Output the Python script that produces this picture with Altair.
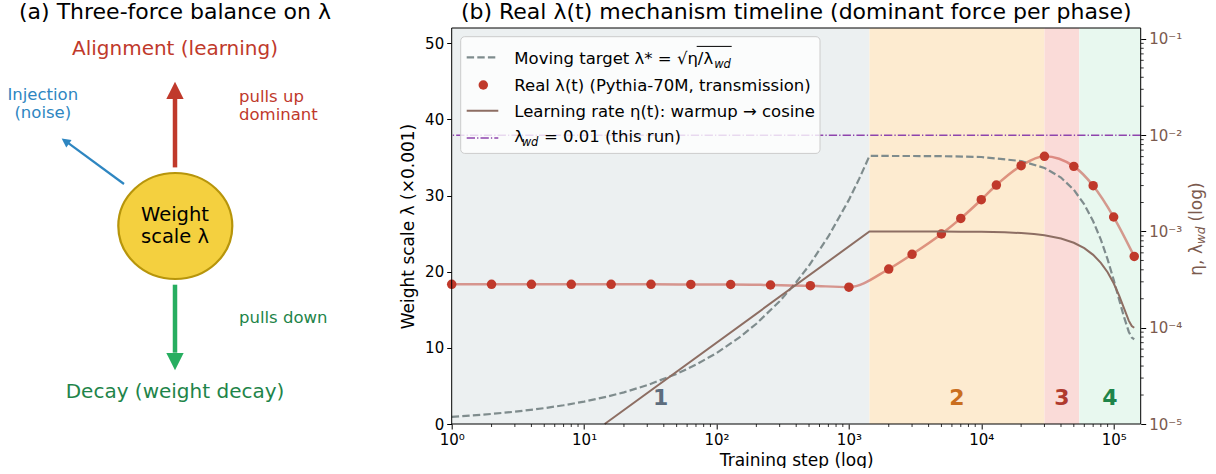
import altair as alt
import pandas as pd

# ---------------- data ----------------
# measured weight scale lambda(t) (x0.001) at checkpoint steps
ckpt_steps = [1, 2, 4, 8, 16, 32, 64, 128, 256, 512, 1000, 2000, 3000, 5000, 7000,
              10000, 13000, 20000, 30000, 50000, 70000, 100000, 143000]
ckpt_lambda = [18.34, 18.34, 18.34, 18.34, 18.34, 18.34, 18.33, 18.32, 18.25, 18.16, 17.97,
               20.35, 22.28, 24.95, 27.0, 29.45, 31.38, 33.92, 35.15, 33.83, 31.29, 27.18, 22.01]

# moving target lambda* = sqrt(eta / lambda_wd), shown on the same x0.001 scale
target_steps = [1, 2, 3, 5, 7, 10, 15, 20, 30, 50, 70, 100, 150, 200, 300, 400, 500, 700,
                1000, 1200, 1430, 3000, 5000, 10000, 20000, 30000, 40000, 50000, 60000,
                70000, 80000, 90000, 100000, 110000, 120000, 130000, 137000, 143000]
target_lambda = [0.93, 1.32, 1.61, 2.08, 2.46, 2.94, 3.61, 4.16, 5.10, 6.58, 7.79, 9.31,
                 11.40, 13.16, 16.12, 18.62, 20.81, 24.63, 29.43, 32.25, 35.2, 35.19, 35.17,
                 35.06, 34.53, 33.63, 32.36, 30.75, 28.83, 26.62, 24.21, 21.61, 18.92, 16.32,
                 13.99, 12.12, 11.35, 11.13]

# learning rate eta(t): linear warmup then cosine decay
lr_steps = [14.3, 1430, 2000, 3000, 5000, 7000, 10000, 15000, 20000, 25000, 30000, 40000,
            50000, 60000, 70000, 80000, 90000, 100000, 110000, 120000, 130000, 137000, 143000]
lr_values = [1.0e-5, 1.0e-3, 1.0e-3, 9.997e-4, 9.986e-4, 9.966e-4, 9.919e-4, 9.798e-4,
             9.623e-4, 9.398e-4, 9.125e-4, 8.45e-4, 7.63e-4, 6.705e-4, 5.721e-4, 4.726e-4,
             3.77e-4, 2.897e-4, 2.152e-4, 1.576e-4, 1.186e-4, 1.04e-4, 1.0e-4]

wd_value = 0.01

# training phases (dominant force per phase)
phase_names = ["1", "2", "3", "4"]
phase_start = [1, 1430, 30000, 55000]
phase_end = [1430, 30000, 55000, 160000]
phase_fill = ["#ecf0f1", "#fdebd0", "#fadbd8", "#e8f8ef"]
phase_text_color = ["#5d6d7e", "#ca6f1e", "#b03a2e", "#1e8449"]
phase_label_step = [37.8, 6550, 40600, 93800]
phase_label_y = [3.36, 3.36, 3.36, 3.36]

x_major = [1, 10, 100, 1000, 10000, 100000]
x_minor = [m * 10 ** e for e in range(0, 5) for m in range(2, 10)]
y_left_ticks = [0, 10, 20, 30, 40, 50]
y_right_major = [1e-5, 1e-4, 1e-3, 1e-2, 1e-1]
y_right_minor = [m * 10.0 ** e for e in range(-5, -1) for m in range(2, 10)]

FONT = "DejaVu Sans"
W, H = 689, 396
BROWN = "#8d6e63"
BROWN_TXT = "#7b5a4e"

# ---------------- panel (b) ----------------
xscale = alt.Scale(type="log", domain=[1, 160000], nice=False)
xaxis = alt.Axis(values=x_major, title="Training step (log)", grid=False, domain=False,
                 tickSize=5, tickColor="black", labelColor="black", labelFontSize=15,
                 labelPadding=3, labelFlush=False, titleFontSize=17,
                 titleFontWeight="normal", titleColor="black", titlePadding=5,
                 labelExpr="'10' + ['⁰','¹','²','³','⁴','⁵'][round(log(datum.value)/LN10)]")


def X(field="step"):
    return alt.X(f"{field}:Q", scale=xscale, axis=xaxis)


yl_scale = alt.Scale(domain=[0, 52], nice=False, zero=True)
yl_axis = alt.Axis(orient="left", values=y_left_ticks, title="Weight scale λ (×0.001)",
                   grid=False, domain=False, tickSize=5, tickColor="black",
                   labelColor="black", labelFontSize=15, labelPadding=3, labelFlush=False,
                   titleFontSize=17, titleFontWeight="normal", titleColor="black",
                   titlePadding=7)
YL = alt.Y("val:Q", scale=yl_scale, axis=yl_axis)

yr_scale = alt.Scale(type="log", domain=[1e-5, 0.13], nice=False)
yr_axis = alt.Axis(orient="right", values=y_right_major, title=None, grid=False,
                   domain=False, tickSize=5, tickColor="black", labelColor=BROWN_TXT,
                   labelFontSize=15, labelPadding=3, labelFlush=False,
                   labelExpr="'10⁻' + ['⁰','¹','²','³','⁴','⁵'][round(-log(datum.value)/LN10)]")
YR = alt.Y("val:Q", scale=yr_scale, axis=yr_axis)

bands_df = pd.DataFrame({"start": phase_start, "end": phase_end, "fill": phase_fill})
labels_df = pd.DataFrame({"step": phase_label_step, "val": phase_label_y,
                          "name": phase_names, "c": phase_text_color})
ckpt_df = pd.DataFrame({"step": ckpt_steps, "val": ckpt_lambda})
target_df = pd.DataFrame({"step": target_steps, "val": target_lambda})
lr_df = pd.DataFrame({"step": lr_steps, "val": lr_values})
wd_df = pd.DataFrame({"val": [wd_value]})
xminor_df = pd.DataFrame({"step": x_minor})
yminor_df = pd.DataFrame({"val": y_right_minor})
one = pd.DataFrame({"k": [0]})

bands = alt.Chart(bands_df).mark_rect().encode(
    x=X("start"), x2="end:Q", color=alt.Color("fill:N", scale=None))

target_line = alt.Chart(target_df).mark_line(
    color="#7f8c8d", strokeWidth=2.2, strokeDash=[7.4, 3.2]).encode(x=X(), y=YL)

lambda_line = alt.Chart(ckpt_df).mark_line(
    color="#c0392b", opacity=0.5, strokeWidth=2.5, interpolate="monotone").encode(x=X(), y=YL)

lambda_dots = alt.Chart(ckpt_df).mark_circle(
    color="#c0392b", size=90, opacity=1).encode(x=X(), y=YL)

phase_labels = alt.Chart(labels_df).mark_text(
    font=FONT, fontSize=22, fontWeight="bold", baseline="middle").encode(
    x=X(), y=YL, text="name:N", color=alt.Color("c:N", scale=None))

x_minor_ticks = alt.Chart(xminor_df).mark_rule(color="black", strokeWidth=0.8).encode(
    x=X(), y=alt.value(H), y2=alt.value(H + 3))

left_group = alt.layer(bands, target_line, lambda_line, lambda_dots, phase_labels,
                       x_minor_ticks)

lr_line = alt.Chart(lr_df).mark_line(color=BROWN, strokeWidth=2).encode(x=X(), y=YR)

wd_line = alt.Chart(wd_df).mark_rule(
    color="#8e44ad", strokeWidth=1.3, strokeDash=[8.3, 2.1, 1.3, 2.1]).encode(y=YR)

y_minor_ticks = alt.Chart(yminor_df).mark_rule(color="black", strokeWidth=0.8).encode(
    y=YR, x=alt.value(W), x2=alt.value(W + 3))

right_group = alt.layer(lr_line, wd_line, y_minor_ticks)


def txt(s, x, y, size=16.5, color="black", align="left", baseline="alphabetic",
        angle=0, style="normal"):
    return alt.Chart(one).mark_text(
        font=FONT, fontSize=size, color=color, align=align, baseline=baseline,
        angle=angle, fontStyle=style).encode(
        x=alt.value(x), y=alt.value(y), text=alt.value(s))


def seg(x1, x2, y, color, width, dash=None):
    kw = dict(color=color, strokeWidth=width)
    if dash:
        kw["strokeDash"] = dash
    return alt.Chart(one).mark_rule(**kw).encode(
        x=alt.value(x1), x2=alt.value(x2), y=alt.value(y), y2=alt.value(y))


# legend box and entries
legend_box = alt.Chart(one).mark_rect(
    cornerRadius=4, fill="white", fillOpacity=0.8, stroke="#cccccc", strokeWidth=1).encode(
    x=alt.value(9), x2=alt.value(368.3), y=alt.value(8.7), y2=alt.value(125.4))

legend_parts = [
    legend_box,
    seg(15, 46.6, 29.4, "#7f8c8d", 2.2, [7.4, 3.2]),
    alt.Chart(one).mark_circle(color="#c0392b", size=90, opacity=1).encode(
        x=alt.value(31.6), y=alt.value(57)),
    seg(15, 46.6, 82.7, BROWN, 2),
    seg(15, 46.6, 110, "#8e44ad", 1.3, [8.3, 2.1, 1.3, 2.1]),
    txt("Moving target λ* = √η/λ", 62.6, 36),
    txt("wd", 262.5, 39.5, size=11.5, style="italic"),
    seg(245, 280, 18.4, "black", 1),
    txt("Real λ(t) (Pythia-70M, transmission)", 62.6, 62.7),
    txt("Learning rate η(t): warmup → cosine", 62.6, 88.7),
    txt("λ", 62.6, 114.4),
    txt("wd", 70, 118, size=11.5, style="italic"),
    txt("= 0.01 (this run)", 92.3, 114.4),
    # right axis title, reading bottom to top
    txt("η, λ", 745, 247.7, size=17, color=BROWN_TXT, angle=270, baseline="middle"),
    txt("wd", 749, 216.1, size=12, color=BROWN_TXT, angle=270, baseline="middle",
        style="italic"),
    txt("(log)", 745, 193.5, size=17, color=BROWN_TXT, angle=270, baseline="middle"),
]

frame = alt.Chart(one).mark_rect(
    fillOpacity=0, stroke="black", strokeWidth=1).encode(
    x=alt.value(0), x2=alt.value(W), y=alt.value(0), y2=alt.value(H))

panel_b = alt.layer(left_group, right_group, *legend_parts, frame).resolve_scale(
    y="independent").properties(
    width=W, height=H,
    title=alt.TitleParams("(b) Real λ(t) mechanism timeline (dominant force per phase)",
                          fontSize=22, fontWeight="normal", color="black",
                          anchor="middle", offset=4, font=FONT))

# ---------------- panel (a): force diagram ----------------
AW = 350
ax = alt.Scale(domain=[0, AW], nice=False, zero=False)
ay = alt.Scale(domain=[0, H], nice=False, zero=False, reverse=True)

diag_text = pd.DataFrame({
    "t": ["Alignment (learning)", "Weight", "scale λ", "Decay (weight decay)",
          "Injection", "(noise)"],
    "x": [175, 175, 175, 175, 42.8, 42.8],
    "y": [27.0, 192.7, 215.0, 370.4, 71.7, 90.0],
    "c": ["#c0392b", "black", "black", "#1e8449", "#2e86c1", "#2e86c1"],
    "s": [20, 19.5, 19.5, 20, 16.5, 16.5],
})
side_text = pd.DataFrame({
    "t": ["pulls up", "dominant", "pulls down"],
    "x": [239, 239, 239],
    "y": [73.7, 92.0, 295.4],
    "c": ["#c0392b", "#c0392b", "#1e8449"],
})
shafts = pd.DataFrame({
    "x": [175, 175, 124], "y": [139.4, 256.7, 156.0],
    "x2": [175, 175, 67.0], "y2": [71.0, 324.7, 114.1],
    "c": ["#c0392b", "#27ae60", "#2e86c1"], "w": [4.5, 4.5, 2.2],
})
heads = pd.DataFrame({
    "x": [175, 175, 65.3], "y": [62.35, 333.7, 113.1],
    "a": [0, 180, 306], "s": [300, 300, 81],
    "c": ["#c0392b", "#27ae60", "#2e86c1"],
})
ball = pd.DataFrame({"x": [175.3], "y": [198.0]})

ball_layer = alt.Chart(ball).mark_point(
    shape="M-1,0A1,0.93,0,1,0,1,0A1,0.93,0,1,0,-1,0Z", filled=True,
    fill="#f4d03f", fillOpacity=1, stroke="#b7950b", strokeWidth=2.2, opacity=1,
    size=12996).encode(
    x=alt.X("x:Q", scale=ax, axis=None), y=alt.Y("y:Q", scale=ay, axis=None))

shaft_layer = alt.Chart(shafts).mark_rule(strokeCap="butt").encode(
    x=alt.X("x:Q", scale=ax, axis=None), y=alt.Y("y:Q", scale=ay, axis=None),
    x2="x2:Q", y2="y2:Q", color=alt.Color("c:N", scale=None),
    strokeWidth=alt.StrokeWidth("w:Q", scale=None))

head_layer = alt.Chart(heads).mark_point(
    shape="M0,-1L1,1L-1,1Z", filled=True, opacity=1).encode(
    x=alt.X("x:Q", scale=ax, axis=None), y=alt.Y("y:Q", scale=ay, axis=None),
    angle=alt.Angle("a:Q", scale=None), size=alt.Size("s:Q", scale=None),
    color=alt.Color("c:N", scale=None))

center_text = alt.Chart(diag_text).mark_text(
    font=FONT, align="center", baseline="alphabetic").encode(
    x=alt.X("x:Q", scale=ax, axis=None), y=alt.Y("y:Q", scale=ay, axis=None),
    text="t:N", color=alt.Color("c:N", scale=None), size=alt.Size("s:Q", scale=None))

side_layer = alt.Chart(side_text).mark_text(
    font=FONT, align="left", baseline="alphabetic", fontSize=16.5).encode(
    x=alt.X("x:Q", scale=ax, axis=None), y=alt.Y("y:Q", scale=ay, axis=None),
    text="t:N", color=alt.Color("c:N", scale=None))

panel_a = alt.layer(shaft_layer, head_layer, ball_layer, center_text, side_layer).properties(
    width=AW, height=H,
    title=alt.TitleParams("(a) Three-force balance on λ", fontSize=22, fontWeight="normal",
                          color="black", anchor="middle", offset=4, font=FONT))

chart = alt.hconcat(panel_a, panel_b, spacing=48.7).properties(
    padding={"left": 0, "top": 0, "right": 0, "bottom": 0}
).configure(font=FONT, background="white").configure_view(stroke=None)

chart.save("out.html", embed_options={"renderer": "svg", "actions": False})
